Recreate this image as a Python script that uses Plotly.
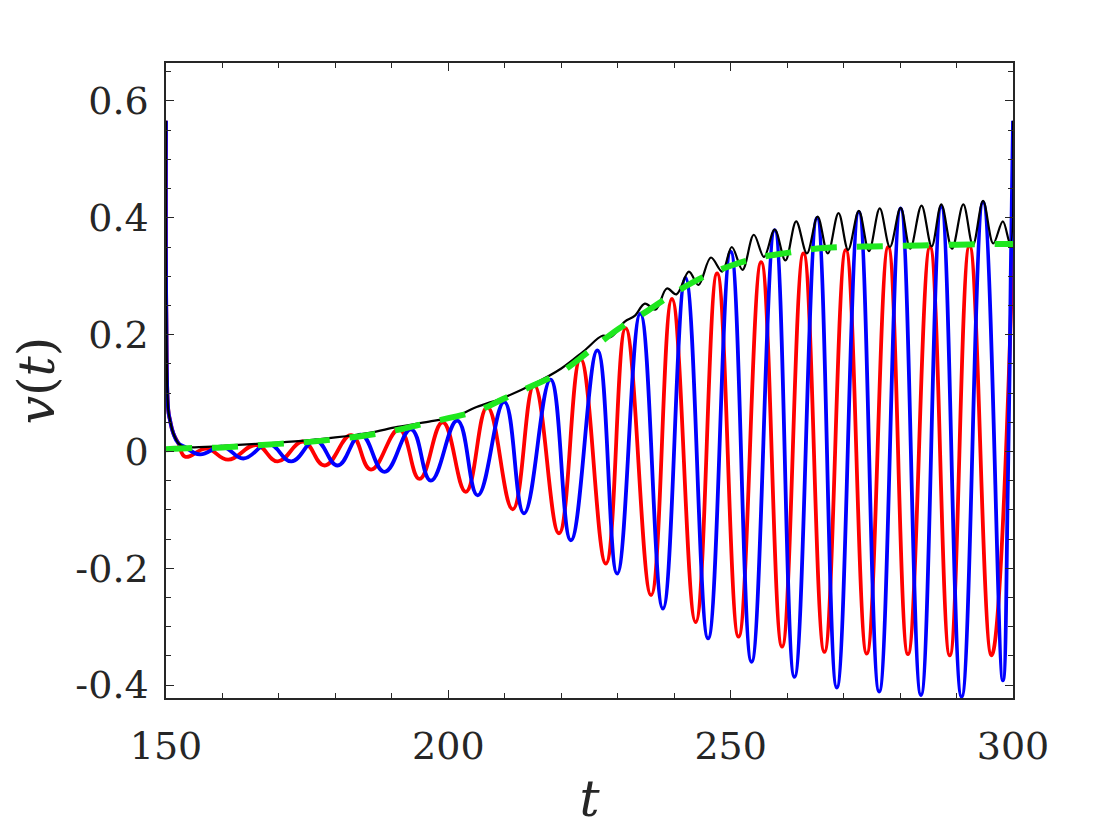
import plotly.graph_objects as go

# ---- data (t, v) ----
red_t = [150, 150.05, 150.4, 150.7, 151.3, 152.2,
         153.4, 157.2, 161.0, 166.0, 169.8, 174.3, 178.1, 182.8, 186.3, 191.3,
         194.9, 199.0, 203.1, 206.9, 211.4, 215.2, 219.6, 223.4, 227.9, 231.4,
         235.9, 239.6, 243.8, 247.6, 251.4, 255.4, 259.1, 262.9, 266.6, 270.4,
         274.1, 277.9, 281.4, 285.3, 288.8, 292.3, 296.2, 300.0]
red_v = [0.566, 0.24, 0.071, 0.054, 0.031, 0.014,
         -0.009, 0.005, -0.014, 0.011, -0.017, 0.017, -0.024, 0.028, -0.031, 0.038,
         -0.047, 0.050, -0.069, 0.076, -0.099, 0.114, -0.140, 0.159, -0.192, 0.211,
         -0.246, 0.261, -0.292, 0.305, -0.317, 0.324, -0.334, 0.339, -0.343, 0.345,
         -0.346, 0.350, -0.347, 0.350, -0.349, 0.352, -0.349, 0.350]

blue_t = [150, 150.05, 150.4, 150.7, 151.3, 152.2, 153.3,
          156.0, 160.0, 163.7, 168.2, 172.2, 176.5, 180.4, 184.5, 188.7, 193.4,
          196.9, 201.6, 205.2, 209.9, 213.4, 218.1, 221.7, 226.4, 229.9, 234.0,
          238.0, 242.0, 246.0, 250.0, 253.7, 257.8, 261.3, 265.3, 268.8, 272.7,
          276.3, 280.1, 283.7, 287.3, 290.9, 294.7, 298.2, 299.1, 299.6, 300.0]
blue_v = [0.566, 0.24, 0.071, 0.054, 0.031, 0.014, 0.008,
          -0.005, 0.008, -0.012, 0.013, -0.017, 0.019, -0.024, 0.029, -0.035, 0.038,
          -0.050, 0.053, -0.075, 0.085, -0.106, 0.123, -0.152, 0.173, -0.209, 0.236,
          -0.269, 0.297, -0.320, 0.342, -0.360, 0.379, -0.386, 0.400, -0.404, 0.410,
          -0.411, 0.416, -0.417, 0.419, -0.420, 0.427, -0.392, -0.05, 0.30, 0.566]

black_t = [150, 150.05, 150.4, 150.7, 151.3, 152.2, 153.1, 157, 162, 168, 174,
           180, 186, 191, 197, 201, 205, 210, 215, 220, 224, 227.3, 228.8,
           231.2, 233.0, 234.8, 236.7, 238.7, 240.4, 242.6, 244.3, 246.5, 248.5,
           250.2, 252.1, 254.1, 255.9, 257.8, 259.7, 261.6, 263.5, 265.4, 267.2,
           269.1, 270.8, 272.7, 274.5, 276.4, 278.2, 280.1, 281.8, 283.8, 285.6,
           287.3, 289.2, 291.2, 292.9, 294.7, 296.5, 298.2, 299.5, 300.0]
black_v = [0.566, 0.24, 0.071, 0.054, 0.031, 0.014, 0.008, 0.008, 0.011, 0.014, 0.018,
           0.024, 0.032, 0.042, 0.052, 0.059, 0.076, 0.093, 0.115, 0.142, 0.172, 0.198, 0.196,
           0.222, 0.232, 0.253, 0.243, 0.279, 0.269, 0.308, 0.285, 0.332, 0.308,
           0.350, 0.311, 0.371, 0.333, 0.380, 0.327, 0.394, 0.339, 0.402, 0.339,
           0.408, 0.345, 0.412, 0.343, 0.416, 0.350, 0.417, 0.347, 0.421, 0.351,
           0.423, 0.347, 0.423, 0.353, 0.429, 0.356, 0.394, 0.355, 0.566]

green_t = [150, 155, 160, 165, 170, 175, 180, 185, 190, 195, 200, 205, 210, 215,
           220, 225, 230, 235, 240, 245, 250, 255, 260, 265, 270, 275, 280, 285,
           290, 295, 300]
green_v = [0.004, 0.006, 0.007, 0.010, 0.013, 0.016, 0.021, 0.027, 0.035, 0.046,
           0.057, 0.069, 0.091, 0.113, 0.136, 0.172, 0.209, 0.239, 0.271, 0.298,
           0.318, 0.332, 0.340, 0.347, 0.350, 0.351, 0.352, 0.353, 0.354, 0.355, 0.355]

x_ticks = [150, 200, 250, 300]
y_ticks = [-0.4, -0.2, 0, 0.2, 0.4, 0.6]
y_ticktext = ["-0.4", "-0.2", "0", "0.2", "0.4", "0.6"]

AX = "#262626"
FONT = "DejaVu Serif"

fig = go.Figure()
fig.add_trace(go.Scatter(x=red_t, y=red_v, mode="lines",
                         line=dict(color="#ff0000", width=3.8, shape="spline", smoothing=1.25)))
fig.add_trace(go.Scatter(x=blue_t, y=blue_v, mode="lines",
                         line=dict(color="#0000ff", width=3.8, shape="spline", smoothing=1.25)))
fig.add_trace(go.Scatter(x=black_t, y=black_v, mode="lines",
                         line=dict(color="#000000", width=2.2, shape="spline", smoothing=1.0)))
fig.add_trace(go.Scatter(x=green_t, y=green_v, mode="lines",
                         line=dict(color="#1fe81f", width=6, dash="26px,20px", shape="spline")))

# The page body adds an 8px offset, so the figure is sized/margined to compensate.
fig.update_layout(
    width=1104, height=824,
    margin=dict(l=158, r=99, t=55, b=134, autoexpand=False),
    paper_bgcolor="white", plot_bgcolor="white",
    showlegend=False,
    font=dict(family=FONT, color=AX, size=38),
)
fig.update_xaxes(
    range=[150, 300], tickvals=x_ticks, ticktext=[str(v) for v in x_ticks],
    ticks="inside", ticklen=8, tickwidth=1.3, tickcolor=AX,
    minor=dict(ticks="inside", ticklen=5, dtick=10, tick0=150, tickcolor=AX, tickwidth=1.3, showgrid=False),
    showline=True, linecolor=AX, linewidth=1.5, mirror="ticks",
    showgrid=False, zeroline=False, automargin=False,
    tickfont=dict(family=FONT, size=38, color=AX), ticklabelstandoff=14,
    title=dict(text="<i>t</i>", font=dict(family=FONT, size=50, color=AX), standoff=14),
)
fig.update_yaxes(
    range=[-0.422, 0.665], tickvals=y_ticks, ticktext=y_ticktext,
    ticks="inside", ticklen=8, tickwidth=1.3, tickcolor=AX,
    minor=dict(ticks="inside", ticklen=5, dtick=0.05, tick0=0, tickcolor=AX, tickwidth=1.3, showgrid=False),
    showline=True, linecolor=AX, linewidth=1.5, mirror="ticks",
    showgrid=False, zeroline=False, automargin=False,
    tickfont=dict(family=FONT, size=38, color=AX), ticklabelstandoff=8,
    title=dict(text="<i>v</i>(<i>t</i>)", font=dict(family=FONT, size=50, color=AX), standoff=10),
)

fig.write_html("out.html")
